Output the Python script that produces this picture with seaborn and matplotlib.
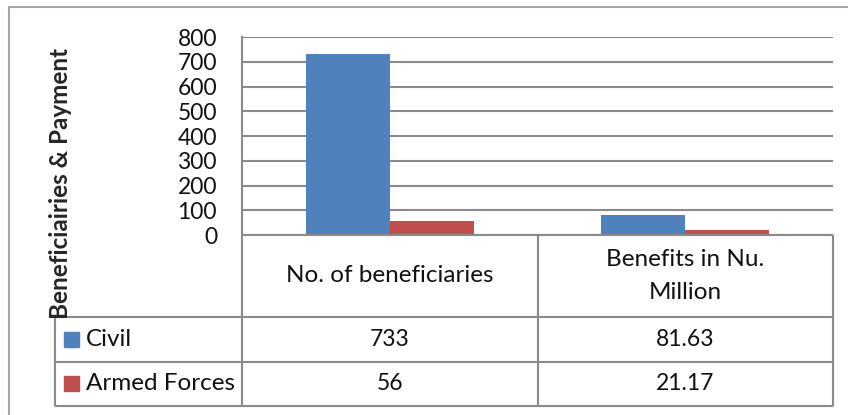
import matplotlib.pyplot as plt
import pandas as pd
import seaborn as sns
from matplotlib.lines import Line2D
from matplotlib.patches import Rectangle

categories = ["No. of beneficiaries", "Benefits in Nu.\nMillion"]
series = ["Civil", "Armed Forces"]
civil_values = [733, 81.63]
armed_values = [56, 21.17]
y_ticks = [0, 100, 200, 300, 400, 500, 600, 700, 800]
y_label = "Beneficiairies & Payment"

colors = ["#4F81BD", "#C0504D"]
grid_color = "#8a8a8a"
border_color = "#a6a6a6"

W, H = 848, 415
# pixel layout (from top-left)
plot_l, plot_r, plot_t, plot_b = 242, 833, 37, 235
tab_l, tab_b = 55, 406
head_h, row_h = 82, 44.5


def fx(px):
    return px / W


def fy(py):
    return 1 - py / H


df = pd.DataFrame({
    "category": categories * 2,
    "series": [series[0]] * len(categories) + [series[1]] * len(categories),
    "value": civil_values + armed_values,
})

sns.set_style("white")
plt.rcParams["font.family"] = ["Lato", "DejaVu Sans"]

fig = plt.figure(figsize=(W / 100, H / 100), dpi=100)

ax = fig.add_axes([fx(plot_l), fy(plot_b), fx(plot_r - plot_l), (plot_b - plot_t) / H])
sns.barplot(data=df, x="category", y="value", hue="series", palette=colors,
            width=0.57, saturation=1, legend=False, ax=ax, zorder=3)
for p in ax.patches:
    p.set_edgecolor("none")
ax.set_ylim(0, 800)
ax.set_yticks(y_ticks)
ax.yaxis.grid(True, color=grid_color, linewidth=1.5, zorder=0)
ax.set_axisbelow(True)
ax.set_xticks([])
ax.set_xlabel("")
ax.set_ylabel("")
ax.tick_params(axis="y", length=0, pad=18, labelsize=16.5, labelcolor="#111111")
for s in ["top", "right", "bottom"]:
    ax.spines[s].set_visible(False)
ax.spines["left"].set_color(grid_color)
ax.spines["left"].set_linewidth(1.5)

fig.text(fx(61), fy(183), y_label, rotation=90, ha="center", va="center",
         fontsize=17.5, fontweight="bold")

# data table below the plot
tab_w = plot_r - tab_l
tab_h = tab_b - plot_b
tax = fig.add_axes([fx(tab_l), fy(tab_b), fx(tab_w), tab_h / H])
tax.set_xlim(0, tab_w)
tax.set_ylim(tab_h, 0)
tax.axis("off")

lab_w = plot_l - tab_l
col_w = (tab_w - lab_w) / len(categories)
lw = 1.5
tax.hlines(0, lab_w, tab_w, color=grid_color, lw=lw, clip_on=False)
for i in range(len(series) + 1):
    tax.hlines(head_h + i * row_h, 0, tab_w, color=grid_color, lw=lw, clip_on=False)
tax.vlines(0, head_h, tab_h, color=grid_color, lw=lw, clip_on=False)
for j in range(len(categories) + 1):
    tax.vlines(lab_w + j * col_w, 0, tab_h, color=grid_color, lw=lw, clip_on=False)

for j, cat in enumerate(categories):
    tax.text(lab_w + (j + 0.5) * col_w, head_h / 2, cat, ha="center", va="center",
             fontsize=17.5, linespacing=1.75, color="#111111")

for i, (name, vals) in enumerate(zip(series, [civil_values, armed_values])):
    yc = head_h + (i + 0.5) * row_h
    tax.add_patch(Rectangle((9, yc - 7.5), 15, 15, color=colors[i], clip_on=False))
    tax.text(31, yc, name, ha="left", va="center", fontsize=17.5, color="#111111")
    for j, v in enumerate(vals):
        tax.text(lab_w + (j + 0.5) * col_w, yc, f"{v:g}", ha="center", va="center",
                 fontsize=16.5, color="#111111")

# outer chart border
fig.add_artist(Line2D([fx(9), 1], [fy(7), fy(7)], color=border_color, lw=1.5))
fig.add_artist(Line2D([fx(9), fx(9)], [fy(7), 0], color=border_color, lw=1.5))

plt.savefig("out.png", dpi=100)
